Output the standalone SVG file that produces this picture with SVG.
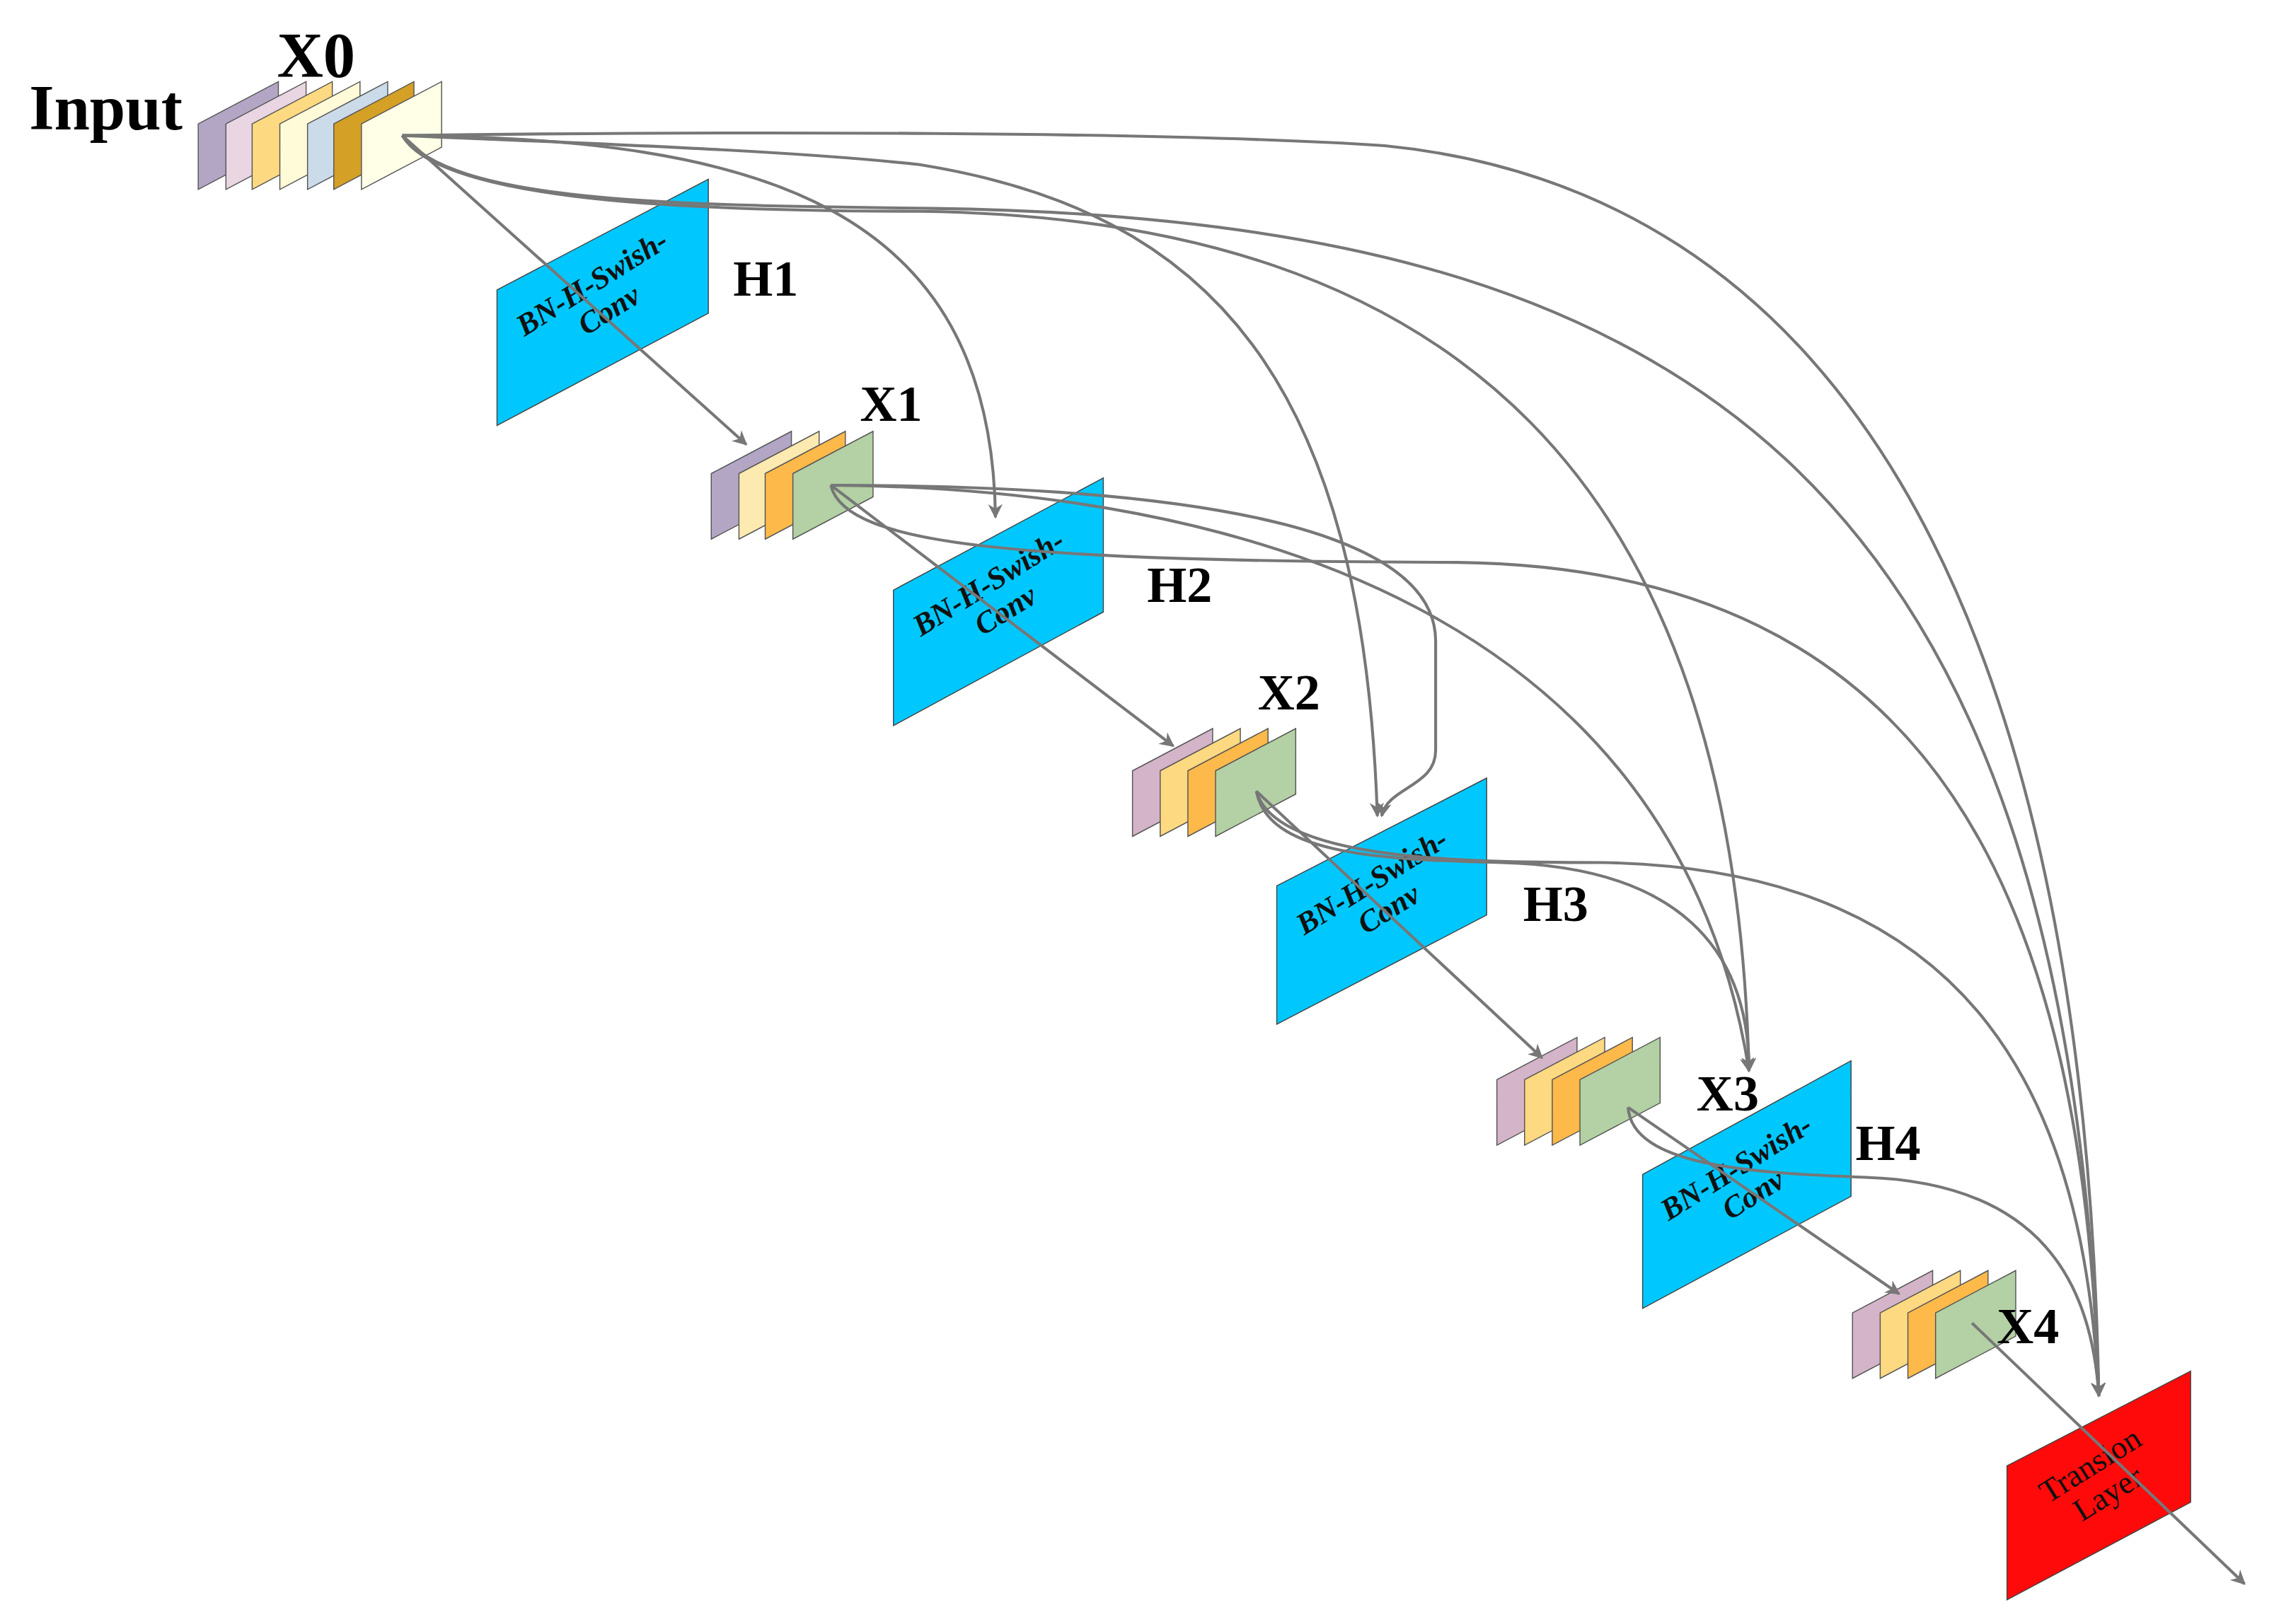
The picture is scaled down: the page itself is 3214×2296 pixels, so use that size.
<svg xmlns="http://www.w3.org/2000/svg" width="3214" height="2296" viewBox="0 0 3214 2296">
<style>
.pl{stroke:#555;stroke-width:0.7}
.box{stroke:#444;stroke-width:0.7}
.lbl{font-family:"Liberation Serif",serif;font-weight:bold;fill:#000}
.bt{font-family:"Liberation Serif",serif;font-weight:bold;font-style:italic;font-size:21px;fill:#111;text-anchor:middle}
.tt{font-family:"Liberation Serif",serif;font-size:22px;fill:#111;text-anchor:middle}
.c{fill:none;stroke:#777;stroke-width:2}
</style>
<defs>
<polygon id="pl" points="0,0 55,-29 55,16 0,45"/>
<marker id="ah" viewBox="0 0 10 10" refX="9" refY="5" markerWidth="10" markerHeight="10" orient="auto" markerUnits="userSpaceOnUse">
<path d="M0,0 L10,5 L0,10 L3,5 z" fill="#777"/>
</marker>
</defs>
<rect width="3214" height="2296" fill="#fff"/>
<g transform="scale(2.06)">
<g id="X0">
<use href="#pl" x="136" y="85" class="pl" fill="#b3a6c5"/>
<use href="#pl" x="155" y="85" class="pl" fill="#ead5e2"/>
<use href="#pl" x="173" y="85" class="pl" fill="#fdd981"/>
<use href="#pl" x="192" y="85" class="pl" fill="#fffad8"/>
<use href="#pl" x="211" y="85" class="pl" fill="#cbdbe9"/>
<use href="#pl" x="229" y="85" class="pl" fill="#d4a025"/>
<use href="#pl" x="248" y="85" class="pl" fill="#fffee6"/>
<text class="lbl" x="20" y="89" font-size="44">Input</text>
<text class="lbl" x="190" y="53" font-size="44">X0</text>
</g>
<g id="H1">
<polygon class="box" points="341,199 486,123 486,215 341,292" fill="#00c8ff"/>
<g transform="translate(413,205) rotate(-32)"><text class="bt" y="-6">BN-H-Swish-</text><text class="bt" y="16">Conv</text></g>
<text class="lbl" x="503" y="203" font-size="35">H1</text>
</g>
<g id="X1">
<use href="#pl" x="488" y="325" class="pl" fill="#b3a6c5"/>
<use href="#pl" x="507" y="325" class="pl" fill="#fdeab0"/>
<use href="#pl" x="525" y="325" class="pl" fill="#fdb94a"/>
<use href="#pl" x="544" y="325" class="pl" fill="#b3d1a4"/>
<text class="lbl" x="590" y="289" font-size="35">X1</text>
</g>
<g id="H2">
<polygon class="box" points="613,405 757,328 757,420 613,498" fill="#00c8ff"/>
<g transform="translate(685,411) rotate(-32)"><text class="bt" y="-6">BN-H-Swish-</text><text class="bt" y="16">Conv</text></g>
<text class="lbl" x="787" y="413" font-size="35">H2</text>
</g>
<g id="X2">
<use href="#pl" x="777" y="529" class="pl" fill="#d4b4c8"/>
<use href="#pl" x="796" y="529" class="pl" fill="#fdd981"/>
<use href="#pl" x="815" y="529" class="pl" fill="#fdb94a"/>
<use href="#pl" x="834" y="529" class="pl" fill="#b3d1a4"/>
<text class="lbl" x="863" y="487" font-size="35">X2</text>
</g>
<g id="H3">
<polygon class="box" points="876,608 1020,534 1020,628 876,703" fill="#00c8ff"/>
<g transform="translate(948,616) rotate(-32)"><text class="bt" y="-6">BN-H-Swish-</text><text class="bt" y="16">Conv</text></g>
<text class="lbl" x="1045" y="632" font-size="35">H3</text>
</g>
<g id="X3">
<use href="#pl" x="1027" y="741" class="pl" fill="#d4b4c8"/>
<use href="#pl" x="1046" y="741" class="pl" fill="#fdd981"/>
<use href="#pl" x="1065" y="741" class="pl" fill="#fdb94a"/>
<use href="#pl" x="1084" y="741" class="pl" fill="#b3d1a4"/>
</g>
<g id="H4">
<polygon class="box" points="1127,806 1270,728 1270,821 1127,898" fill="#00c8ff"/>
<g transform="translate(1198,812) rotate(-32)"><text class="bt" y="-6">BN-H-Swish-</text><text class="bt" y="16">Conv</text></g>
<text class="lbl" x="1273" y="796" font-size="35">H4</text>
</g>
<text class="lbl" x="1164" y="762" font-size="35">X3</text>
<g id="X4">
<use href="#pl" x="1271" y="901" class="pl" fill="#d4b4c8"/>
<use href="#pl" x="1290" y="901" class="pl" fill="#fdd981"/>
<use href="#pl" x="1309" y="901" class="pl" fill="#fdb94a"/>
<use href="#pl" x="1328" y="901" class="pl" fill="#b3d1a4"/>
</g>
<g id="TL">
<polygon class="box" points="1377,1006 1503,941 1503,1031 1377,1098" fill="#ff0a0a"/>
<g transform="translate(1440,1015) rotate(-32)"><text class="tt" y="-4">Transion</text><text class="tt" y="19">Layer</text></g>
</g>
<text class="lbl" x="1370" y="922" font-size="35">X4</text>
<g id="connectors">
<path class="c" marker-end="url(#ah)" d="M276,93 L512,305"/>
<path class="c" marker-end="url(#ah)" d="M570,333 L805,512"/>
<path class="c" marker-end="url(#ah)" d="M862,543 L1058,726"/>
<path class="c" marker-end="url(#ah)" d="M1117,760 L1303,888"/>
<path class="c" marker-end="url(#ah)" d="M1353,908 L1540,1087"/>
<path class="c" marker-end="url(#ah)" d="M276,93 C520,95 680,140 683,355"/>
<path class="c" marker-end="url(#ah)" d="M276,93 C450,100 560,105 631,113 C830,145 935,260 945,560"/>
<path class="c" marker-end="url(#ah)" d="M276,93 C300,135 450,145 631,145 C1000,150 1190,330 1200,735"/>
<path class="c" marker-end="url(#ah)" d="M276,93 C310,138 450,141 640,143 C1150,150 1420,320 1440,958"/>
<path class="c" marker-end="url(#ah)" d="M276,93 C500,90 800,90 950,100 C1250,130 1430,400 1440,958"/>
<path class="c" marker-end="url(#ah)" d="M570,333 C850,333 985,370 985,440 L985,515 C985,540 952,540 948,560"/>
<path class="c" marker-end="url(#ah)" d="M570,333 C850,335 1150,420 1200,735"/>
<path class="c" marker-end="url(#ah)" d="M570,333 C580,375 700,385 1000,386 C1330,390 1430,620 1440,958"/>
<path class="c" marker-end="url(#ah)" d="M862,543 C870,585 940,590 1030,592 C1150,595 1200,650 1200,735"/>
<path class="c" marker-end="url(#ah)" d="M862,543 C875,590 1000,592 1100,592 C1360,597 1430,760 1440,958"/>
<path class="c" marker-end="url(#ah)" d="M1117,760 C1120,800 1200,805 1280,808 C1400,812 1435,880 1440,958"/>
</g>
</g>
</svg>
